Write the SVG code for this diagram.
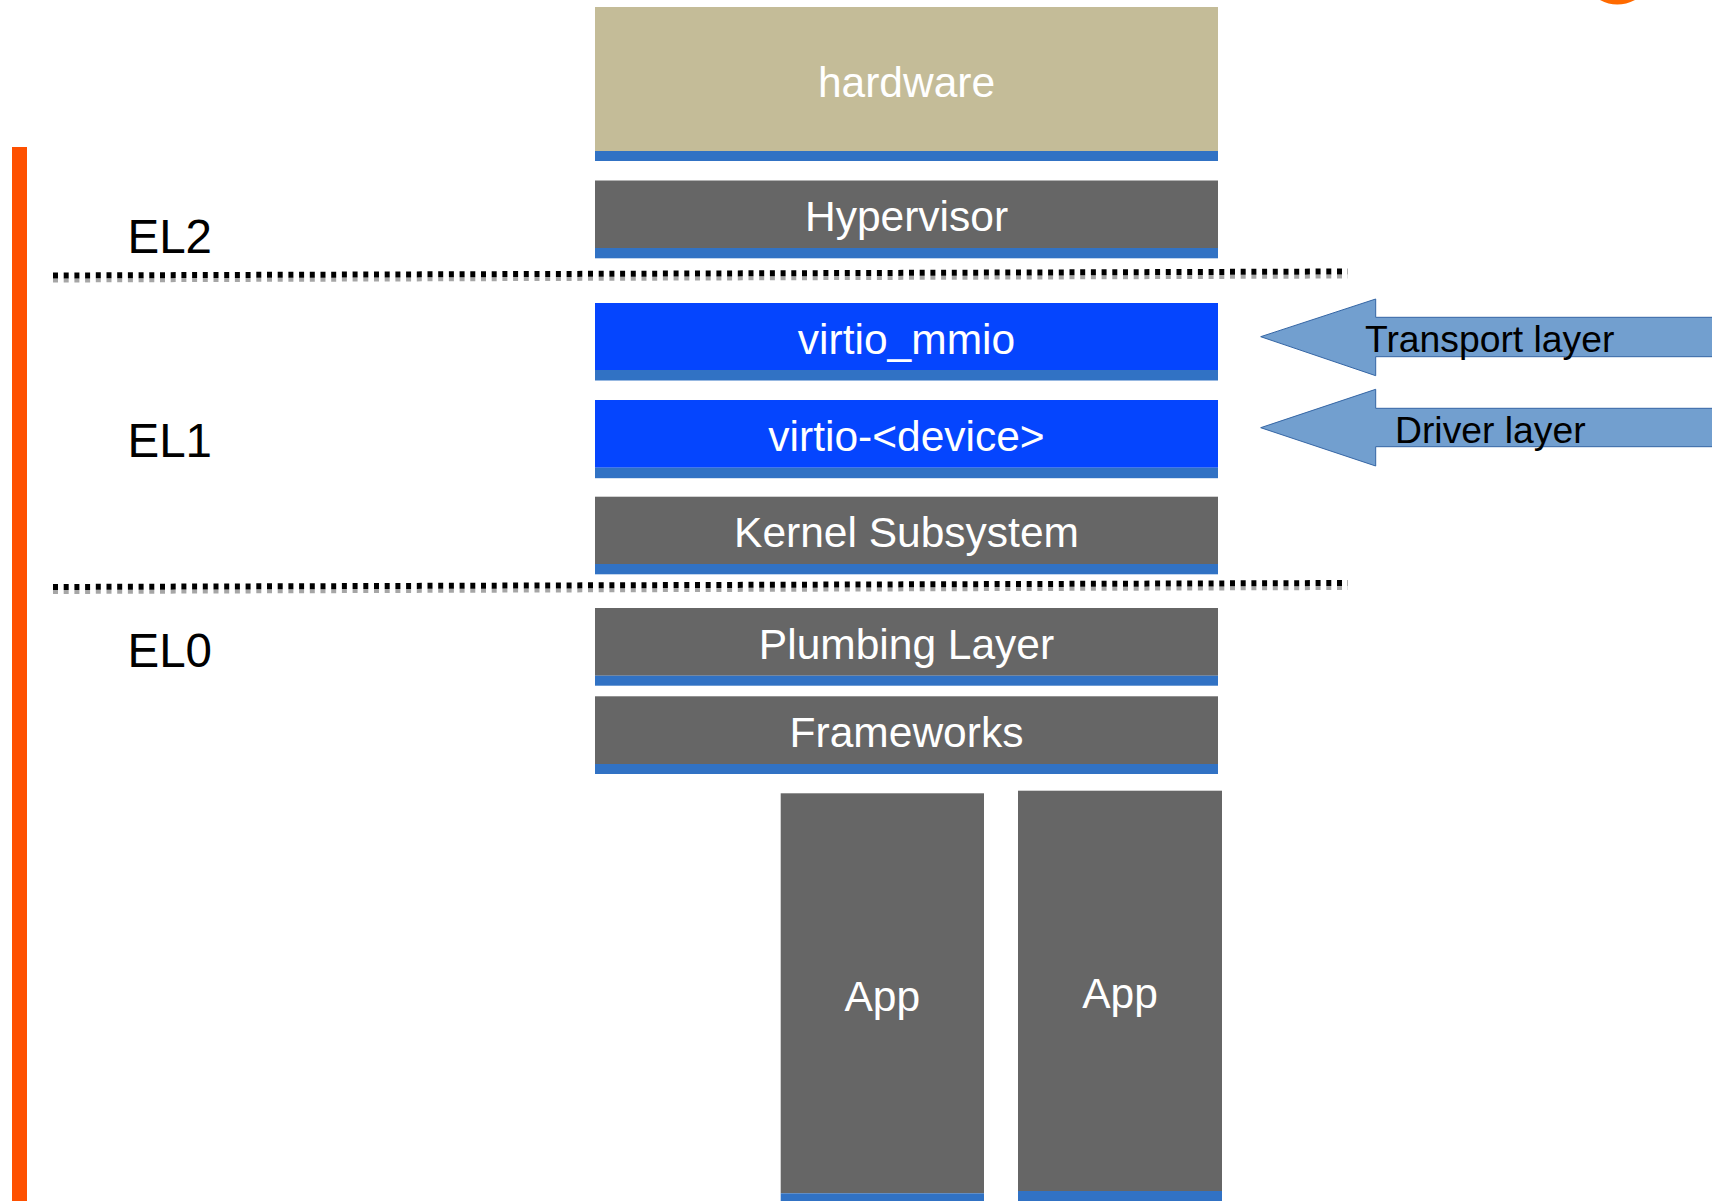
<svg xmlns="http://www.w3.org/2000/svg" width="1712" height="1201" viewBox="0 0 1712 1201">
  <style>
    .lbl { font-family: "Liberation Sans", Arial, sans-serif; font-size: 42.5px; fill: #ffffff; text-anchor: middle; }
    .el { font-family: "Liberation Sans", Arial, sans-serif; font-size: 47.5px; fill: #000000; }
    .arr { font-family: "Liberation Sans", Arial, sans-serif; font-size: 37.3px; fill: #000000; }
    .gray { fill: #666666; }
    .tan { fill: #c4bc98; }
    .vblue { fill: #0545fe; }
    .band { fill: #3172c4; }
    .arrow { fill: #729fcf; stroke: #3465a4; stroke-width: 1; }
    .dotk { stroke: #000000; stroke-width: 6; stroke-dasharray: 5 5.7; fill: none; }
    .dotg { stroke: #a6a6a6; stroke-width: 4; stroke-dasharray: 5 5.7; fill: none; }
  </style>
  <rect width="1712" height="1201" fill="#ffffff"/>

  <!-- orange bar and logo fragment -->
  <rect x="12" y="147" width="15" height="1054" fill="#fe5000"/>
  <path d="M1600 0 Q1617 9 1635 0 Z" fill="#ff6a00"/>

  <!-- separators -->
  <g id="separators">
    <line class="dotg" x1="53" y1="280.5" x2="1348" y2="276.5"/>
    <line class="dotk" x1="53" y1="275.5" x2="1348" y2="271.5"/>
    <line class="dotg" x1="53" y1="592" x2="1348" y2="588"/>
    <line class="dotk" x1="53" y1="587" x2="1348" y2="583"/>
  </g>

  <!-- EL labels -->
  <text class="el" x="127.5" y="253">EL2</text>
  <text class="el" x="127.5" y="456.7">EL1</text>
  <text class="el" x="127.5" y="667.3">EL0</text>

  <g id="hardware">
    <rect class="tan" x="595" y="7" width="623" height="144"/>
    <rect class="band" x="595" y="151" width="623" height="10"/>
    <text class="lbl" x="906.5" y="96.7">hardware</text>
  </g>
  <g id="hypervisor">
    <rect class="gray" x="595" y="180.5" width="623" height="67.5"/>
    <rect class="band" x="595" y="248" width="623" height="10.3"/>
    <text class="lbl" x="906.5" y="231">Hypervisor</text>
  </g>
  <g id="virtio_mmio">
    <rect class="vblue" x="595" y="303" width="623" height="67"/>
    <rect class="band" x="595" y="370" width="623" height="10.5"/>
    <text class="lbl" x="906.5" y="354">virtio_mmio</text>
  </g>
  <g id="virtio_device">
    <rect class="vblue" x="595" y="400" width="623" height="67.7"/>
    <rect class="band" x="595" y="467.7" width="623" height="10.5"/>
    <text class="lbl" x="906.5" y="450.7">virtio-&lt;device&gt;</text>
  </g>
  <g id="kernel_subsystem">
    <rect class="gray" x="595" y="496.7" width="623" height="67.3"/>
    <rect class="band" x="595" y="564" width="623" height="10.3"/>
    <text class="lbl" x="906.5" y="546.7">Kernel Subsystem</text>
  </g>
  <g id="plumbing_layer">
    <rect class="gray" x="595" y="608" width="623" height="67.7"/>
    <rect class="band" x="595" y="675.7" width="623" height="10"/>
    <text class="lbl" x="906.5" y="659">Plumbing Layer</text>
  </g>
  <g id="frameworks">
    <rect class="gray" x="595" y="696.3" width="623" height="67.7"/>
    <rect class="band" x="595" y="764" width="623" height="10"/>
    <text class="lbl" x="906.5" y="746.7">Frameworks</text>
  </g>
  <g id="app1">
    <rect class="gray" x="780.7" y="793.3" width="203.3" height="400"/>
    <rect class="band" x="780.7" y="1193.3" width="203.3" height="8"/>
    <text class="lbl" x="882.3" y="1010.7">App</text>
  </g>
  <g id="app2">
    <rect class="gray" x="1018" y="790.7" width="204" height="400.3"/>
    <rect class="band" x="1018" y="1191" width="204" height="10"/>
    <text class="lbl" x="1120" y="1007.7">App</text>
  </g>

  <g id="connectors">
    <g id="transport_arrow">
      <polygon class="arrow" points="1260.7,336.7 1375.7,299 1375.7,317.3 1714,317.3 1714,356.7 1375.7,356.7 1375.7,375.7"/>
      <text class="arr" x="1365" y="351.7">Transport layer</text>
    </g>
    <g id="driver_arrow">
      <polygon class="arrow" points="1260.7,427.7 1375.7,389.3 1375.7,408.3 1714,408.3 1714,446.7 1375.7,446.7 1375.7,466"/>
      <text class="arr" x="1395" y="442.7">Driver layer</text>
    </g>
  </g>
</svg>
